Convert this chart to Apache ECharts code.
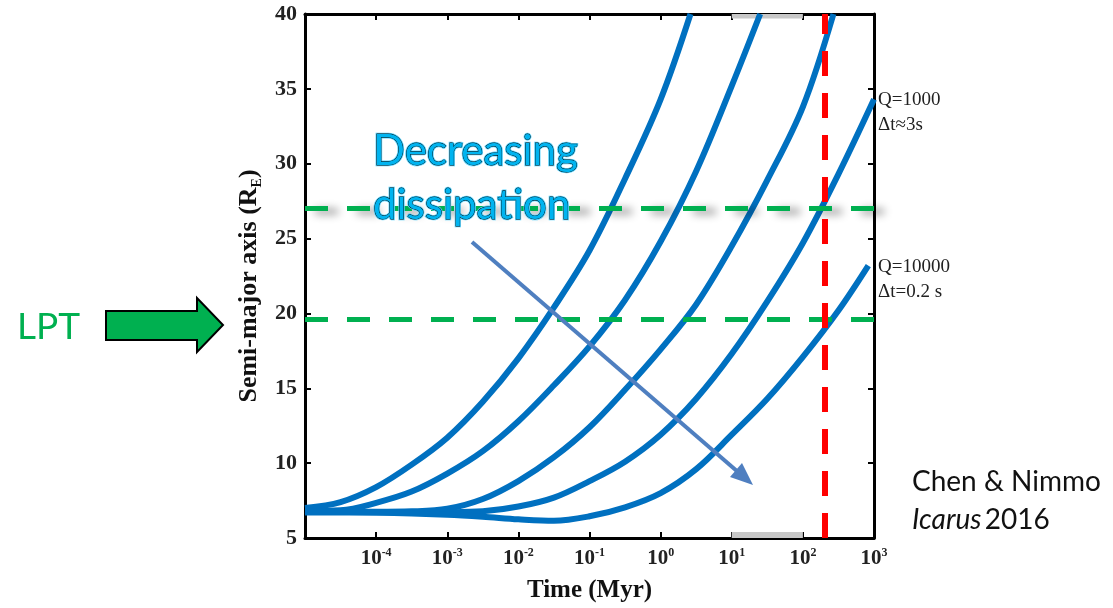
<!DOCTYPE html>
<html>
<head>
<meta charset="utf-8">
<script src="https://cdn.jsdelivr.net/npm/echarts@6/dist/echarts.min.js"></script>
<style>
html,body{margin:0;padding:0;background:#fff;}
#chart{width:1113px;height:608px;}
</style>
</head>
<body>
<div id="chart"></div>
<script>
// ---- data: [time (Myr), semi-major axis (R_E)] ----
const curve1 = [[1e-5,7.0],[3.16e-5,7.4],[1e-4,8.4],[3.16e-4,9.9],[1e-3,11.7],[3.16e-3,14.1],[0.01,17.0],[0.0316,20.4],[0.1,24.2],[0.316,29.0],[1,34.3],[2.63,40]];
const curve2 = [[1e-5,6.8],[3.16e-5,6.85],[1e-4,7.35],[3.16e-4,8.1],[1e-3,9.3],[3.16e-3,10.8],[0.01,12.8],[0.0316,15.2],[0.1,17.8],[0.316,20.9],[1,24.8],[3.16,29.5],[10,35.2],[25.1,40]];
const curve3 = [[1e-5,6.75],[1e-4,6.75],[3.16e-4,6.78],[1e-3,6.95],[3.16e-3,7.6],[0.01,8.8],[0.0316,10.4],[0.1,12.4],[0.316,14.9],[1,17.6],[3.16,20.6],[10,24.5],[31.6,28.9],[100,33.8],[269,40]];
const curve4 = [[1e-5,6.7],[1e-3,6.72],[3.16e-3,6.78],[0.01,7.1],[0.0316,7.7],[0.1,8.8],[0.316,10.1],[1,11.9],[3.16,14.3],[10,17.3],[31.6,20.8],[100,24.7],[316,29.3],[1000,34.3]];
const curve5 = [[1e-5,6.8],[1e-4,6.7],[1e-3,6.55],[3.16e-3,6.42],[0.01,6.25],[0.0316,6.15],[0.1,6.45],[0.316,7.05],[1,8.0],[3.16,9.6],[10,11.9],[31.6,14.3],[100,17.1],[316,20.2],[832,23.2]];
const lptLevels = [27, 19.6];
const redLineTime = 200;
const grayBand = [10, 100];
const xRange = [1e-5, 1e3];
const yRange = [5, 40];
const yTickStep = 5;

const serif = '"Liberation Serif","DejaVu Serif",serif';
const sans = 'Lato,"Open Sans",sans-serif';
const chart = echarts.init(document.getElementById('chart'), null, {renderer:'canvas'});

const curveStyle = (d) => ({
  type:'line', data:d, showSymbol:false, smooth:0.35,
  lineStyle:{color:'#0070c0', width:6}, itemStyle:{color:'#0070c0'},
  z:2, silent:true, clip:true
});

const boxAxisLine = {show:true, onZero:false, lineStyle:{color:'#000', width:3}};
const tickStyle = {show:true, inside:true, length:6, lineStyle:{color:'#000', width:2}};

const option = {
  backgroundColor:'#fff',
  animation:false,
  grid:{left:305, right:239, top:14, bottom:64, containLabel:false},
  xAxis:[{
    type:'log', logBase:10, min:xRange[0], max:xRange[1], splitNumber:8,
    position:'bottom',
    axisLine:boxAxisLine, axisTick:tickStyle, splitLine:{show:false},
    axisLabel:{
      margin:9,
      formatter:function(v){
        const e = Math.round(Math.log10(v));
        if (e === -5) return '';
        return '{b|10}{s|' + e + '}';
      },
      rich:{
        b:{fontFamily:serif, fontWeight:'bold', fontSize:21, color:'#222', lineHeight:22, verticalAlign:'bottom'},
        s:{fontFamily:serif, fontWeight:'bold', fontSize:12, color:'#222', lineHeight:22, verticalAlign:'top', padding:[0,0,8,0]}
      }
    },
    name:'Time (Myr)', nameLocation:'middle', nameGap:40,
    nameTextStyle:{fontFamily:serif, fontWeight:'bold', fontSize:25, color:'#111'}
  },{
    type:'log', logBase:10, min:xRange[0], max:xRange[1], splitNumber:8,
    position:'top',
    axisLine:boxAxisLine, axisTick:tickStyle, axisLabel:{show:false}, splitLine:{show:false}
  }],
  yAxis:[{
    type:'value', min:yRange[0], max:yRange[1], interval:yTickStep, position:'left',
    axisLine:boxAxisLine, axisTick:tickStyle, splitLine:{show:false},
    axisLabel:{fontFamily:serif, fontWeight:'bold', fontSize:22, color:'#222', margin:8}
  },{
    type:'value', min:yRange[0], max:yRange[1], interval:yTickStep, position:'right',
    axisLine:boxAxisLine, axisTick:tickStyle, axisLabel:{show:false}, splitLine:{show:false}
  }],
  series:[
    Object.assign(curveStyle(curve1), {
      markArea:{silent:true, itemStyle:{color:'#c8c8c8'},
        data:[
          [{coord:[grayBand[0], yRange[0]]},{coord:[grayBand[1], yRange[0]+0.4]}],
          [{coord:[grayBand[0], yRange[1]-0.3]},{coord:[grayBand[1], yRange[1]]}]
        ]}
    }),
    curveStyle(curve2),
    curveStyle(curve3),
    curveStyle(curve4),
    curveStyle(curve5),
    {
      type:'line', data:[], z:4, silent:true,
      markLine:{silent:true, symbol:['none','none'], label:{show:false},
        lineStyle:{color:'#00b050', width:5, type:[23,19], shadowBlur:8, shadowColor:'rgba(0,0,0,0.45)', shadowOffsetX:10, shadowOffsetY:3},
        data:[{yAxis:lptLevels[0]}]}
    },
    {
      type:'line', data:[], z:4, silent:true,
      markLine:{silent:true, symbol:['none','none'], label:{show:false},
        lineStyle:{color:'#00b050', width:5, type:[23,19]},
        data:[{yAxis:lptLevels[1]}]}
    },
    {
      type:'line', data:[], z:5, silent:true,
      markLine:{silent:true, symbol:['none','none'], label:{show:false},
        lineStyle:{color:'#ff0000', width:6, type:[25,17]},
        data:[{xAxis:redLineTime}]}
    }
  ],
  graphic:[
    // y-axis title
    {type:'text', x:249, y:286, rotation:Math.PI/2, style:{
      text:'{a|Semi-major axis (R}{s|E}{a|)}', align:'center', verticalAlign:'middle',
      rich:{
        a:{font:'bold 26px '+serif, fill:'#111', lineHeight:30},
        s:{font:'bold 14px '+serif, fill:'#111', lineHeight:30, verticalAlign:'bottom', padding:[14,0,0,0]}
      }}},
    // LPT label and green block arrow
    {type:'text', left:17, top:309, style:{text:'LPT', font:'37px '+sans, fill:'#00b050'}},
    {type:'polygon', shape:{points:[[106,311],[197,311],[197,298],[223,325],[197,352],[197,340],[106,340]]},
      style:{fill:'#00b050', stroke:'#000', lineWidth:2}},
    // Decreasing dissipation text
    {type:'text', x:373, y:130, z:10, style:{text:'Decreasing', font:'42px '+sans, fill:'#00b4f0', stroke:'#5fd6ff', lineWidth:2.5}},
    {type:'text', x:373, y:130, z:11, style:{text:'Decreasing', font:'42px '+sans, fill:'#00b4f0', stroke:'#000', lineWidth:0.8}},
    {type:'text', x:373, y:184, z:10, style:{text:'dissipation', font:'42px '+sans, fill:'#00b4f0', stroke:'#5fd6ff', lineWidth:2.5}},
    {type:'text', x:373, y:184, z:11, style:{text:'dissipation', font:'42px '+sans, fill:'#00b4f0', stroke:'#000', lineWidth:0.8}},
    // pointer arrow
    {type:'line', z:9, shape:{x1:472, y1:242, x2:738, y2:472}, style:{stroke:'#4f7fc0', lineWidth:4}},
    {type:'polygon', z:9, shape:{points:[[753,485],[730,477],[742,463]]}, style:{fill:'#4f7fc0'}},
    // Q labels
    {type:'text', x:878, y:91, style:{text:'Q=1000', font:'19px '+serif, fill:'#222'}},
    {type:'text', x:878, y:116, style:{text:'\u0394t\u22483s', font:'19px '+serif, fill:'#222'}},
    {type:'text', x:878, y:258, style:{text:'Q=10000', font:'19px '+serif, fill:'#222'}},
    {type:'text', x:878, y:283, style:{text:'\u0394t=0.2 s', font:'19px '+serif, fill:'#222'}},
    // citation
    {type:'text', x:912, y:468, style:{text:'Chen & Nimmo', font:'28px '+sans, fill:'#111'}},
    {type:'text', x:912, y:506, style:{rich:{i:{font:'italic 28px '+sans, fill:'#111'}, n:{font:'28px '+sans, fill:'#111'}}, text:'{i|Icarus} {n|2016}'}}
  ]
};
chart.setOption(option);
</script>
</body>
</html>
